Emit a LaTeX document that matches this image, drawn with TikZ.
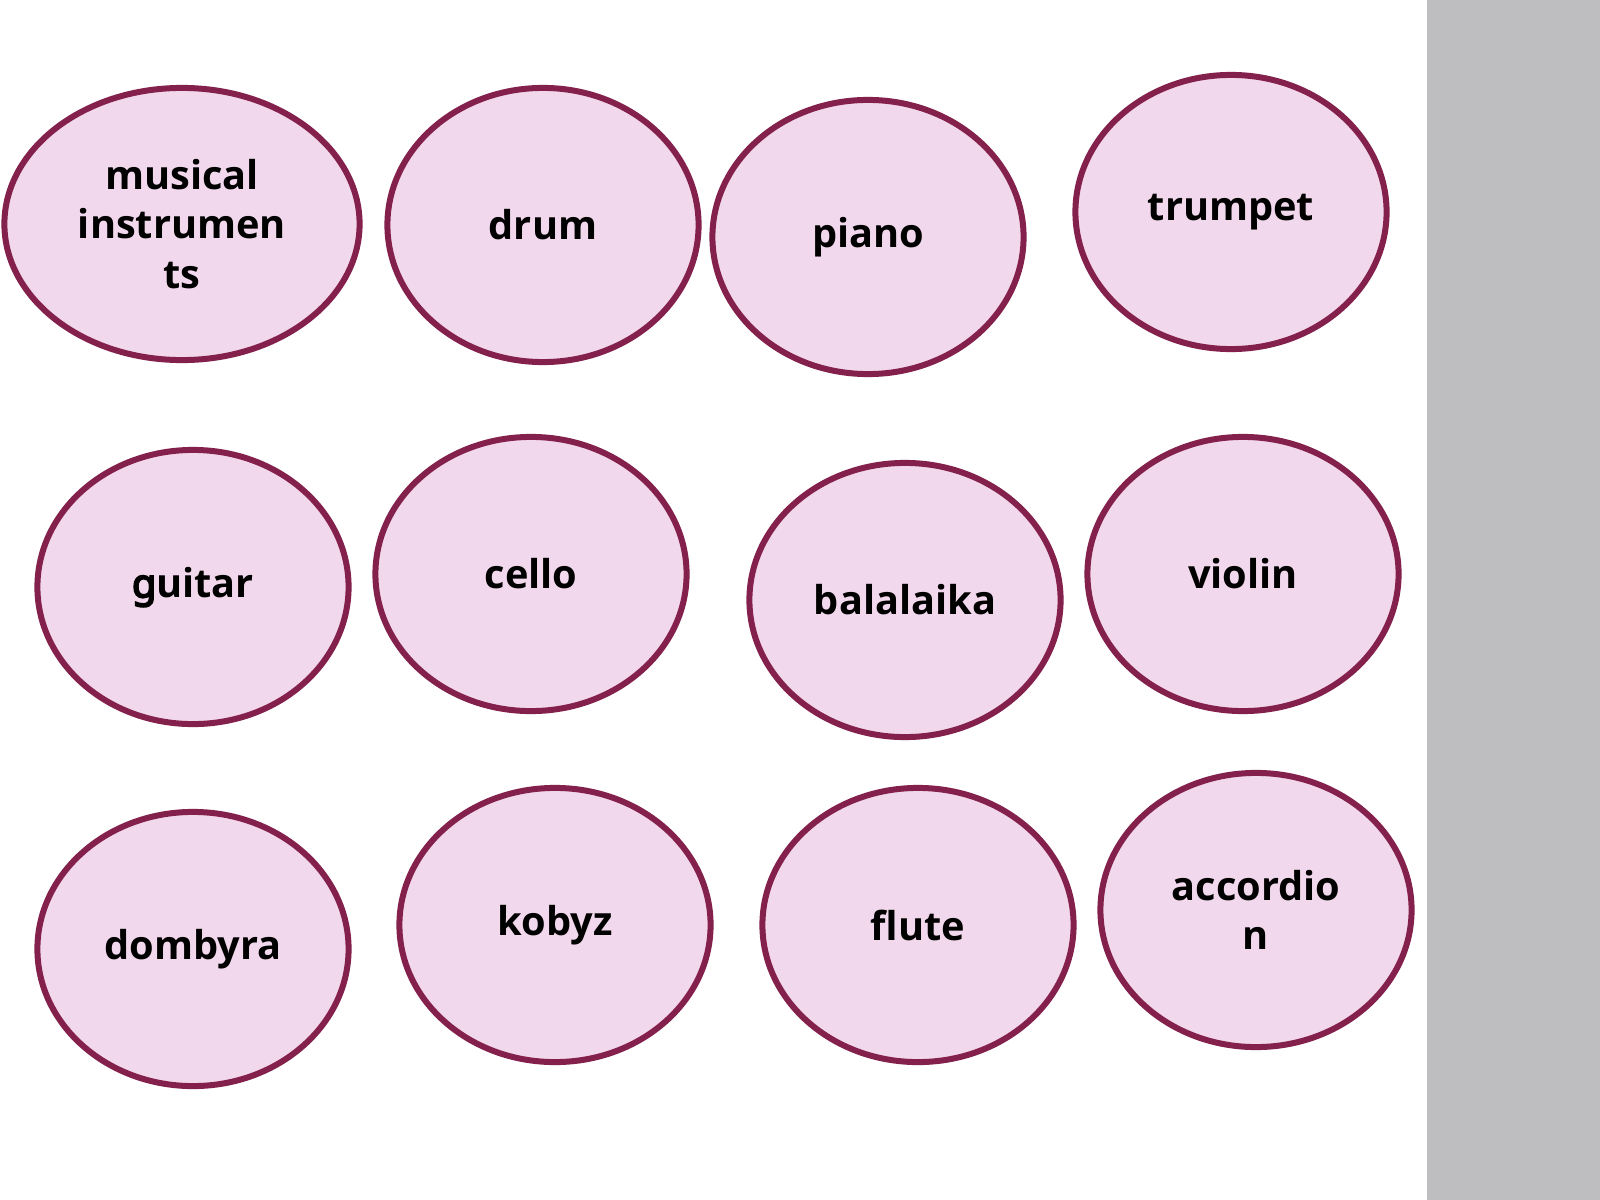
\documentclass[tikz,border=0pt]{standalone}
\usepackage{fontspec}
\setmainfont{Open Sans}
\newfontfamily\gfont{Noto Sans}[FakeBold=4.5]
\usetikzlibrary{shapes.geometric}
\definecolor{ovalline}{RGB}{132,32,76}
\definecolor{ovalfill}{RGB}{242,216,236}
\definecolor{sidegray}{RGB}{190,190,192}
\tikzset{
  oval/.style={ellipse, draw=ovalline, fill=ovalfill, line width=0.06cm,
    minimum width=3.11cm, minimum height=2.74cm, inner sep=0pt,
    align=center,
    font=\fontsize{11.3pt}{14pt}\selectfont\bfseries, text=black}
}
\begin{document}
\begin{tikzpicture}[x=0.01cm,y=-0.01cm]
\useasboundingbox (0,0) rectangle (1600,1200);
\fill[white] (0,0) rectangle (1600,1200);
\fill[sidegray] (1427,0) rectangle (1600,1200);
\node[oval, minimum width=3.55cm, minimum height=2.72cm] (mi) at (182,224) {musical\\instrumen\\ts};
\node[oval] (drum) at (543,225) {drum};
\node[oval] (piano) at (868,237) {piano};
\node[oval] (trumpet) at (1231,212) {trumpet};
\node[oval] (guitar) at (193,587) {{\gfont g}uitar};
\node[oval] (cello) at (531,574) {cello};
\node[oval] (balalaika) at (905,600) {balalaika};
\node[oval] (violin) at (1243,574) {violin};
\node[oval] (dombyra) at (193,949) {dombyra};
\node[oval] (kobyz) at (555,925) {kobyz};
\node[oval] (flute) at (918,925) {flute};
\node[oval] (accordion) at (1256,910) {accordio\\n};
\end{tikzpicture}
\end{document}
